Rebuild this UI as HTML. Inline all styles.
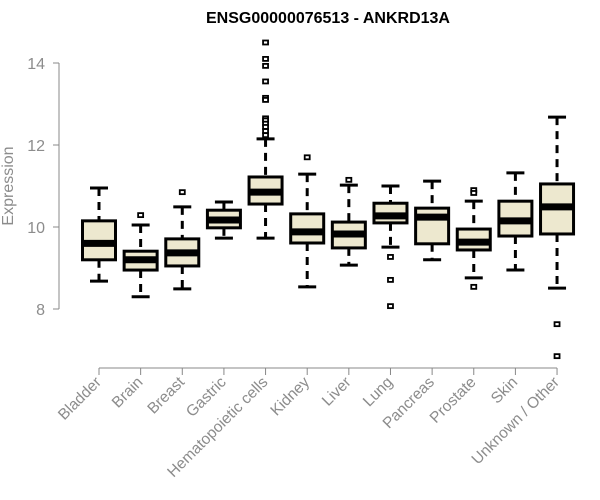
<!DOCTYPE html>
<html><head><meta charset="utf-8"><style>body{margin:0;background:#fff}svg{display:block;font-family:"Liberation Sans",Arial,sans-serif}</style></head>
<body>
<svg id="chart" width="600" height="500" viewBox="0 0 600 500" xmlns="http://www.w3.org/2000/svg">
<text x="328" y="23" text-anchor="middle" font-size="16" font-weight="bold">ENSG00000076513 - ANKRD13A</text>
<text transform="translate(13,186) rotate(-90)" text-anchor="middle" font-size="16" fill="#8c8c8c">Expression</text>
<g id="axes"></g>
<g id="boxes"></g>
</svg>
<script>
const categories=["Bladder","Brain","Breast","Gastric","Hematopoietic cells","Kidney","Liver","Lung","Pancreas","Prostate","Skin","Unknown / Other"];
const whiskerLow=[8.68,8.3,8.49,9.73,9.73,8.54,9.07,9.51,9.2,8.76,8.95,8.51];
const q1=[9.2,8.95,9.05,9.98,10.56,9.61,9.49,10.1,9.59,9.44,9.78,9.83];
const medians=[9.6,9.2,9.37,10.17,10.85,9.88,9.83,10.27,10.24,9.63,10.15,10.49];
const q3=[10.15,9.41,9.71,10.41,11.22,10.32,10.12,10.58,10.46,9.95,10.63,11.05];
const whiskerHigh=[10.95,10.05,10.49,10.61,12.15,11.29,11.02,11.0,11.12,10.63,11.32,12.68];
const outliers=[[],[10.29],[10.85],[],[14.5,14.1,13.93,13.55,13.15,13.1,12.65,12.6,12.52,12.44,12.34,12.24],[11.7],[11.15],[9.27,8.71,8.07],[],[8.54,10.9,10.83],[],[7.63,6.85]];
const yTicks=[8,10,12,14];

const NS="http://www.w3.org/2000/svg";
const y=v=>309-(v-8)*41;
const x=i=>99+i*41.64;
const bw=33;
function mk(tag,attrs,parent){const e=document.createElementNS(NS,tag);for(const k in attrs)e.setAttribute(k,attrs[k]);parent.appendChild(e);return e;}
const axes=document.getElementById('axes'),boxes=document.getElementById('boxes');
const gray="#888";
let l=mk('line',{x1:59,x2:59,y1:y(yTicks[0]),y2:y(yTicks[yTicks.length-1]),stroke:gray},axes);


yTicks.forEach(t=>{
  const tk=mk('line',{x1:53,x2:59,y1:y(t),y2:y(t),stroke:gray},axes);
  
  
  const tx=mk('text',{x:45,y:y(t)+6,'text-anchor':'end','font-size':16,fill:'#8c8c8c'},axes);
  tx.textContent=t;
  
  
});
const xl=mk('line',{x1:x(0),x2:x(categories.length-1),y1:368,y2:368,stroke:gray},axes);


categories.forEach((c,i)=>{
  const cx=x(i);
  const tk=mk('line',{x1:cx,x2:cx,y1:368,y2:375,stroke:gray},axes);
  
  
  const tx=mk('text',{transform:`translate(${cx+3},${383}) rotate(-45)`,'text-anchor':'end','font-size':15.5,fill:'#8c8c8c'},axes);
  tx.textContent=c;
  
  
  const g=mk('g',{},boxes);
  
  
  mk('line',{x1:cx,x2:cx,y1:y(whiskerHigh[i]),y2:y(q3[i]),stroke:'#000','stroke-width':3,'stroke-dasharray':'8,6'},g);
  mk('line',{x1:cx,x2:cx,y1:y(q1[i]),y2:y(whiskerLow[i]),stroke:'#000','stroke-width':3,'stroke-dasharray':'8,6'},g);
  mk('line',{x1:cx-9,x2:cx+9,y1:y(whiskerHigh[i]),y2:y(whiskerHigh[i]),stroke:'#000','stroke-width':3},g);
  mk('line',{x1:cx-9,x2:cx+9,y1:y(whiskerLow[i]),y2:y(whiskerLow[i]),stroke:'#000','stroke-width':3},g);
  mk('rect',{x:cx-bw/2,y:y(q3[i]),width:bw,height:y(q1[i])-y(q3[i]),fill:'#ede8cf',stroke:'#000','stroke-width':3},g);
  mk('line',{x1:cx-bw/2,x2:cx+bw/2,y1:y(medians[i]),y2:y(medians[i]),stroke:'#000','stroke-width':7},g);
  outliers[i].forEach(o=>{
    const p=mk('rect',{x:cx-2.5,y:y(o)-2,width:5,height:4,fill:'#fff',stroke:'#000','stroke-width':1.8},g);
    
    
  });
});
</script>
</body></html>
